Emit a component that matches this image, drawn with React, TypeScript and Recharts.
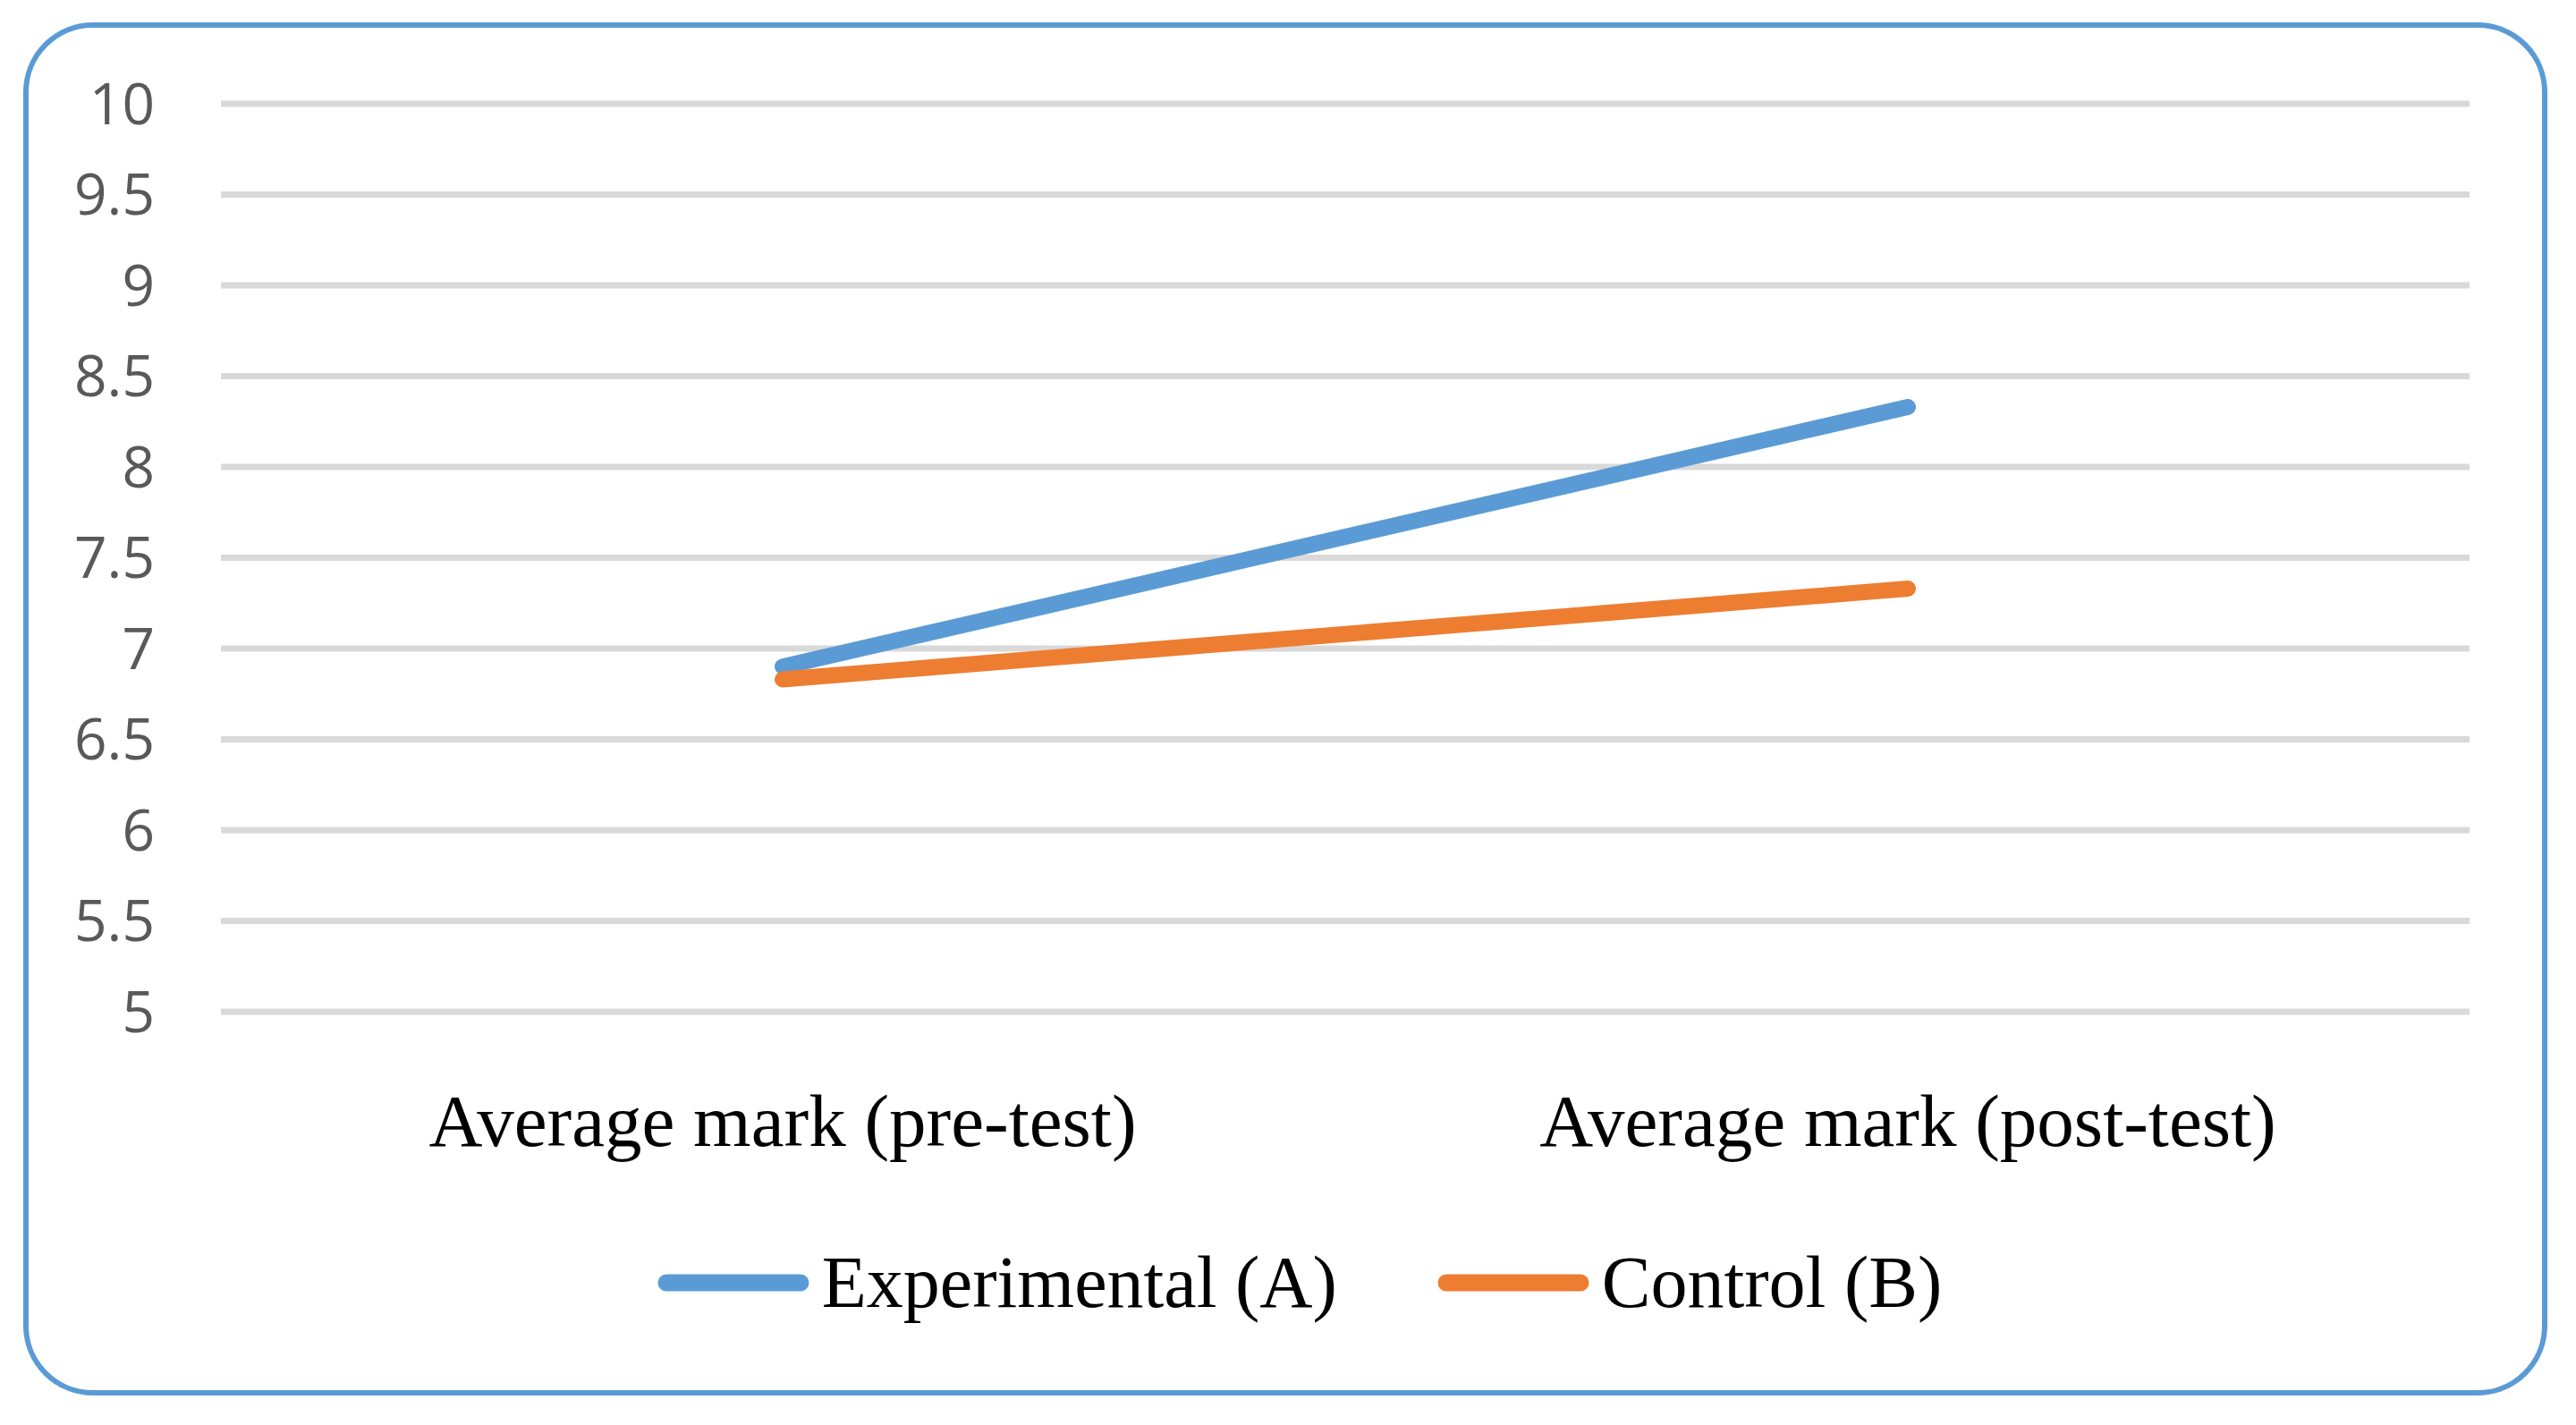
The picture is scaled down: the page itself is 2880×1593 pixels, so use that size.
import { LineChart, Line, XAxis, YAxis, CartesianGrid, Legend } from 'recharts';

const CATEGORIES = ['Average mark (pre-test)', 'Average mark (post-test)'];
const EXPERIMENTAL = [6.9, 8.33];
const CONTROL = [6.83, 7.33];
const Y_TICKS = [5, 5.5, 6, 6.5, 7, 7.5, 8, 8.5, 9, 9.5, 10];
const SERIES_ORDER = ['Experimental (A)', 'Control (B)'];

const BLUE = '#5b9bd5';
const ORANGE = '#ed7d31';

const data = CATEGORIES.map((name, i) => ({
  name,
  experimental: EXPERIMENTAL[i],
  control: CONTROL[i],
}));

const SERIF = '"Liberation Serif", "Times New Roman", serif';

function LegendContent({ payload }: any) {
  const items = [...(payload || [])].sort(
    (a: any, b: any) => SERIES_ORDER.indexOf(a.value) - SERIES_ORDER.indexOf(b.value)
  );
  return (
    <div style={{ display: 'flex', justifyContent: 'center', alignItems: 'center', height: 100, paddingLeft: 145 }}>
      {items.map((entry: any, i: number) => (
        <div key={i} style={{ display: 'flex', alignItems: 'center', marginLeft: i === 0 ? 0 : 112 }}>
          <svg width={170} height={30} style={{ marginRight: 14 }}>
            <line x1={10} y1={15} x2={160} y2={15} stroke={entry.color} strokeWidth={19} strokeLinecap="round" />
          </svg>
          <span style={{ fontFamily: SERIF, fontSize: 82, color: '#000', lineHeight: 1 }}>{entry.value}</span>
        </div>
      ))}
    </div>
  );
}

export default function App() {
  return (
    <div style={{ position: 'absolute', left: 0, top: 0, width: 2880, height: 1593, background: '#fff' }}>
      <LineChart width={2880} height={1593} data={data} margin={{ top: 116, right: 119, left: 0, bottom: 109 }}>
        <CartesianGrid vertical={false} stroke="#d9d9d9" strokeWidth={7} />
        <XAxis
          dataKey="name"
          axisLine={false}
          tickLine={false}
          tickSize={0}
          tickMargin={91}
          height={253}
          interval={0}
          padding={{ left: 628, right: 628 }}
          tick={{ fill: '#000', fontSize: 83, fontFamily: SERIF }}
        />
        <YAxis
          domain={[5, 10]}
          ticks={Y_TICKS}
          axisLine={false}
          tickLine={false}
          tickSize={0}
          tickMargin={74}
          width={247}
          tick={{ fill: '#595959', fontSize: 64, fontFamily: '"Open Sans", sans-serif' }}
        />
        <Legend verticalAlign="bottom" height={100} content={<LegendContent />} />
        <Line
          type="linear"
          dataKey="experimental"
          name="Experimental (A)"
          stroke={BLUE}
          strokeWidth={18}
          strokeLinecap="round"
          dot={false}
          activeDot={false}
          isAnimationActive={false}
        />
        <Line
          type="linear"
          dataKey="control"
          name="Control (B)"
          stroke={ORANGE}
          strokeWidth={18}
          strokeLinecap="round"
          dot={false}
          activeDot={false}
          isAnimationActive={false}
        />
      </LineChart>
      <div
        style={{
          position: 'absolute',
          left: 26,
          top: 25,
          width: 2822,
          height: 1535,
          boxSizing: 'border-box',
          border: `6px solid ${BLUE}`,
          borderRadius: 78,
          pointerEvents: 'none',
        }}
      />
    </div>
  );
}
